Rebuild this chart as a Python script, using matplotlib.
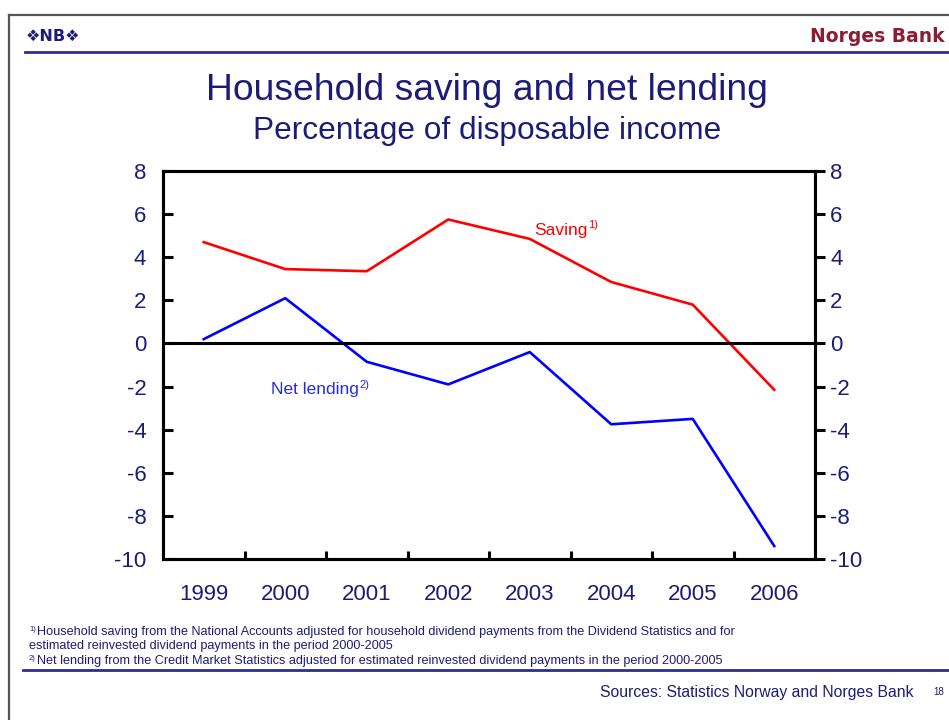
import numpy as np
import matplotlib.pyplot as plt
from matplotlib.lines import Line2D

# data (percent of disposable income)
years = ["1999", "2000", "2001", "2002", "2003", "2004", "2005", "2006"]
saving = [4.7, 3.45, 3.35, 5.75, 4.85, 2.85, 1.8, -2.15]
net_lending = [0.2, 2.1, -0.85, -1.9, -0.4, -3.75, -3.5, -9.4]
yticks = [8, 6, 4, 2, 0, -2, -4, -6, -8, -10]

navy = "#1c1c78"
dark_red = "#8c1c32"
rule_blue = "#2e2e8c"

plt.rcParams["font.family"] = ["Liberation Sans", "DejaVu Sans"]
plt.rcParams["axes.unicode_minus"] = False

W, H = 949, 720
fig = plt.figure(figsize=(W / 100, H / 100), dpi=100)


def fx(px):
    return px / W


def fy(py):
    return 1 - py / H


# page frame and header/footer rules
fig.add_artist(Line2D([fx(9), 1], [fy(15), fy(15)], color="#555555", lw=1.6))
fig.add_artist(Line2D([fx(9), fx(9)], [fy(15), 0], color="#555555", lw=1.6))
fig.add_artist(Line2D([fx(25), 1], [fy(52), fy(52)], color=rule_blue, lw=2.0))
fig.add_artist(Line2D([fx(23), 1], [fy(670), fy(670)], color=rule_blue, lw=2.0))

fig.text(fx(26), fy(36), "\u2756NB\u2756", family="DejaVu Sans", weight="bold",
         color=navy, fontsize=11.5, va="center", ha="left")
fig.text(fx(945), fy(37), "Norges Bank", family="DejaVu Sans", weight="bold",
         color=dark_red, fontsize=13.5, va="center", ha="right")

fig.text(fx(487), fy(90), "Household saving and net lending", color=navy,
         fontsize=26.8, ha="center", va="center")
fig.text(fx(487), fy(131), "Percentage of disposable income", color=navy,
         fontsize=22.8, ha="center", va="center")

# main axes
ax = fig.add_axes([fx(163), fy(559), fx(815) - fx(163), fy(171) - fy(559)])
x = np.arange(len(years))
ax.plot(x, saving, color="#ff0000", lw=1.9)
ax.plot(x, net_lending, color="#0000ff", lw=1.9)
ax.axhline(0, color="black", lw=2.2)

ax.set_xlim(-0.5, len(years) - 0.5)
ax.set_ylim(-10, 8)
ax.set_yticks(yticks)
ax.tick_params(axis="y", direction="in", length=7, width=2.2, colors="black",
               labelcolor=navy, labelsize=16, pad=12)
ax.set_xticks(x[:-1] + 0.5)
ax.set_xticklabels([])
ax.tick_params(axis="x", which="major", direction="in", length=6, width=2.2)
ax.set_xticks(x, minor=True)
ax.set_xticklabels(years, minor=True)
ax.tick_params(axis="x", which="minor", length=0, pad=18, labelsize=16,
               labelcolor=navy)
for s in ax.spines.values():
    s.set_linewidth(2.2)

ax2 = ax.twinx()
ax2.set_ylim(-10, 8)
ax2.set_yticks(yticks)
ax2.tick_params(axis="y", direction="out", length=7, width=2.2,
                labelcolor=navy, labelsize=16, pad=4)
for s in ax2.spines.values():
    s.set_linewidth(2.2)

# series labels
t1 = ax.text(4.06, 5.25, "Saving", color="#ff0000", fontsize=12.5,
             va="center", ha="left")
ax.annotate("1)", xy=(1.0, 0.55), xycoords=t1, color="#ff0000", fontsize=8,
            va="bottom", ha="left")
t2 = ax.text(0.83, -2.15, "Net lending", color="#2a2ae0", fontsize=12.5,
             va="center", ha="left")
ax.annotate("2)", xy=(1.0, 0.5), xycoords=t2, color="#2a2ae0", fontsize=8,
            va="bottom", ha="left")

# footnotes
notes = [
    ("1)", "Household saving from the National Accounts adjusted for household dividend payments from the Dividend Statistics and for"),
    ("", "estimated reinvested dividend payments in the period 2000-2005"),
    ("2)", "Net lending from the Credit Market Statistics adjusted for estimated reinvested dividend payments in the period 2000-2005"),
]
for i, (mark, line) in enumerate(notes):
    yy = fy(632 + i * 14.5)
    if mark:
        fig.text(fx(29), yy + 0.004, mark, color=navy, fontsize=5.5, va="center")
    fig.text(fx(37) if mark else fx(29), yy, line, color=navy, fontsize=9.1,
             va="center")

fig.text(fx(913), fy(693), "Sources: Statistics Norway and Norges Bank",
         color=navy, fontsize=11.3, ha="right", va="center")
fig.text(fx(933), fy(692), "18", color=navy, fontsize=7, ha="left",
         va="center")

fig.savefig("out.png", dpi=100)
